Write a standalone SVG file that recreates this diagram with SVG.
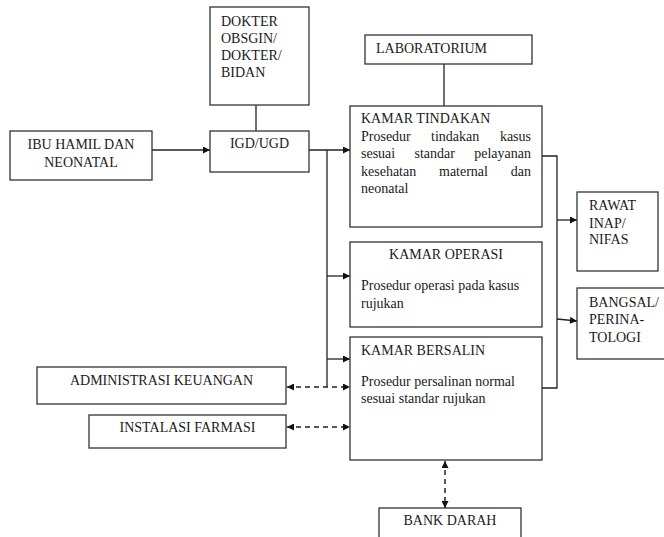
<svg xmlns="http://www.w3.org/2000/svg" width="664" height="537" viewBox="0 0 664 537">
<style>
.box{fill:#fff;stroke:#333;stroke-width:1.3}
.t{font-family:"Liberation Serif","Times New Roman",serif;font-size:14px;fill:#1a1a1a}
.c{text-anchor:middle}
.e{text-anchor:end}
.ln{fill:none;stroke:#222;stroke-width:1.3}
.dash{fill:none;stroke:#222;stroke-width:1.5;stroke-dasharray:5 4}
</style>
<defs>
<marker id="ah" viewBox="0 0 10 10" refX="10" refY="5" markerWidth="8" markerHeight="7" markerUnits="userSpaceOnUse" orient="auto-start-reverse">
<path d="M0,0 L10,5 L0,10 z" fill="#111"/>
</marker>
</defs>
<rect width="664" height="537" fill="#fff"/>
<g id="connectors">
<line class="ln" x1="152" y1="150" x2="210" y2="150" marker-end="url(#ah)"/>
<line class="ln" x1="256" y1="105" x2="256" y2="131"/>
<line class="ln" x1="444" y1="64" x2="444" y2="106"/>
<line class="ln" x1="309" y1="150" x2="350" y2="150" marker-end="url(#ah)"/>
<line class="ln" x1="327" y1="150" x2="327" y2="387"/>
<line class="ln" x1="327" y1="276" x2="350" y2="276" marker-end="url(#ah)"/>
<line class="ln" x1="327" y1="359" x2="350" y2="359" marker-end="url(#ah)"/>
<polyline class="ln" points="542,156 557,156 557,388 542,388"/>
<line class="ln" x1="557" y1="220" x2="577" y2="220" marker-end="url(#ah)"/>
<line class="ln" x1="557" y1="319" x2="577" y2="321" marker-end="url(#ah)"/>
<line class="dash" x1="287" y1="387" x2="350" y2="387" marker-start="url(#ah)" marker-end="url(#ah)"/>
<line class="dash" x1="287" y1="427" x2="350" y2="427" marker-start="url(#ah)" marker-end="url(#ah)"/>
<line class="dash" x1="445" y1="461" x2="445" y2="508" marker-start="url(#ah)" marker-end="url(#ah)"/>
</g>
<g id="dokter">
<rect class="box" x="210" y="7" width="99" height="98"/>
<text class="t" x="221" y="25.5">DOKTER</text>
<text class="t" x="221" y="42.5">OBSGIN/</text>
<text class="t" x="221" y="60">DOKTER/</text>
<text class="t" x="221" y="77.3">BIDAN</text>
</g>
<g id="ibu">
<rect class="box" x="10" y="131" width="142" height="49"/>
<text class="t c" x="81" y="149">IBU HAMIL DAN</text>
<text class="t c" x="81" y="166.7">NEONATAL</text>
</g>
<g id="igd">
<rect class="box" x="210" y="131" width="99" height="41"/>
<text class="t c" x="259.5" y="148">IGD/UGD</text>
</g>
<g id="lab">
<rect class="box" x="365" y="35" width="167" height="29"/>
<text class="t" x="376" y="53.3">LABORATORIUM</text>
</g>
<g id="kamar-tindakan">
<rect class="box" x="350" y="106" width="192" height="121"/>
<text class="t" x="361" y="123">KAMAR TINDAKAN</text>
<text class="t" x="361" y="140.5">Prosedur</text>
<text class="t" x="431" y="140.5">tindakan</text>
<text class="t e" x="531" y="140.5">kasus</text>
<text class="t" x="361" y="158">sesuai</text>
<text class="t" x="414.5" y="158">standar</text>
<text class="t e" x="531" y="158">pelayanan</text>
<text class="t" x="361" y="175.5">kesehatan</text>
<text class="t" x="439" y="175.5">maternal</text>
<text class="t e" x="531" y="175.5">dan</text>
<text class="t" x="361" y="193">neonatal</text>
</g>
<g id="kamar-operasi">
<rect class="box" x="350" y="242" width="192" height="85"/>
<text class="t c" x="446" y="259.3">KAMAR OPERASI</text>
<text class="t" x="361" y="290.3">Prosedur operasi pada kasus</text>
<text class="t" x="361" y="307.7">rujukan</text>
</g>
<g id="kamar-bersalin">
<rect class="box" x="350" y="337" width="192" height="123"/>
<text class="t" x="361" y="355.3">KAMAR BERSALIN</text>
<text class="t" x="361" y="385.7">Prosedur persalinan normal</text>
<text class="t" x="361" y="402.7">sesuai standar rujukan</text>
</g>
<g id="rawat-inap">
<rect class="box" x="577" y="192" width="81" height="79"/>
<text class="t" x="589" y="210.3">RAWAT</text>
<text class="t" x="589" y="227.7">INAP/</text>
<text class="t" x="589" y="244.3">NIFAS</text>
</g>
<g id="bangsal">
<rect class="box" x="577" y="288" width="88" height="71"/>
<text class="t" x="589" y="306.7">BANGSAL/</text>
<text class="t" x="589" y="324.3">PERINA-</text>
<text class="t" x="589" y="341.7">TOLOGI</text>
</g>
<g id="administrasi">
<rect class="box" x="37" y="367" width="249" height="37"/>
<text class="t c" x="161.5" y="385">ADMINISTRASI KEUANGAN</text>
</g>
<g id="farmasi">
<rect class="box" x="89" y="415" width="197" height="33"/>
<text class="t c" x="187.5" y="432.3">INSTALASI FARMASI</text>
</g>
<g id="bank-darah">
<rect class="box" x="379" y="508" width="142" height="40"/>
<text class="t c" x="450" y="525">BANK DARAH</text>
</g>
</svg>
